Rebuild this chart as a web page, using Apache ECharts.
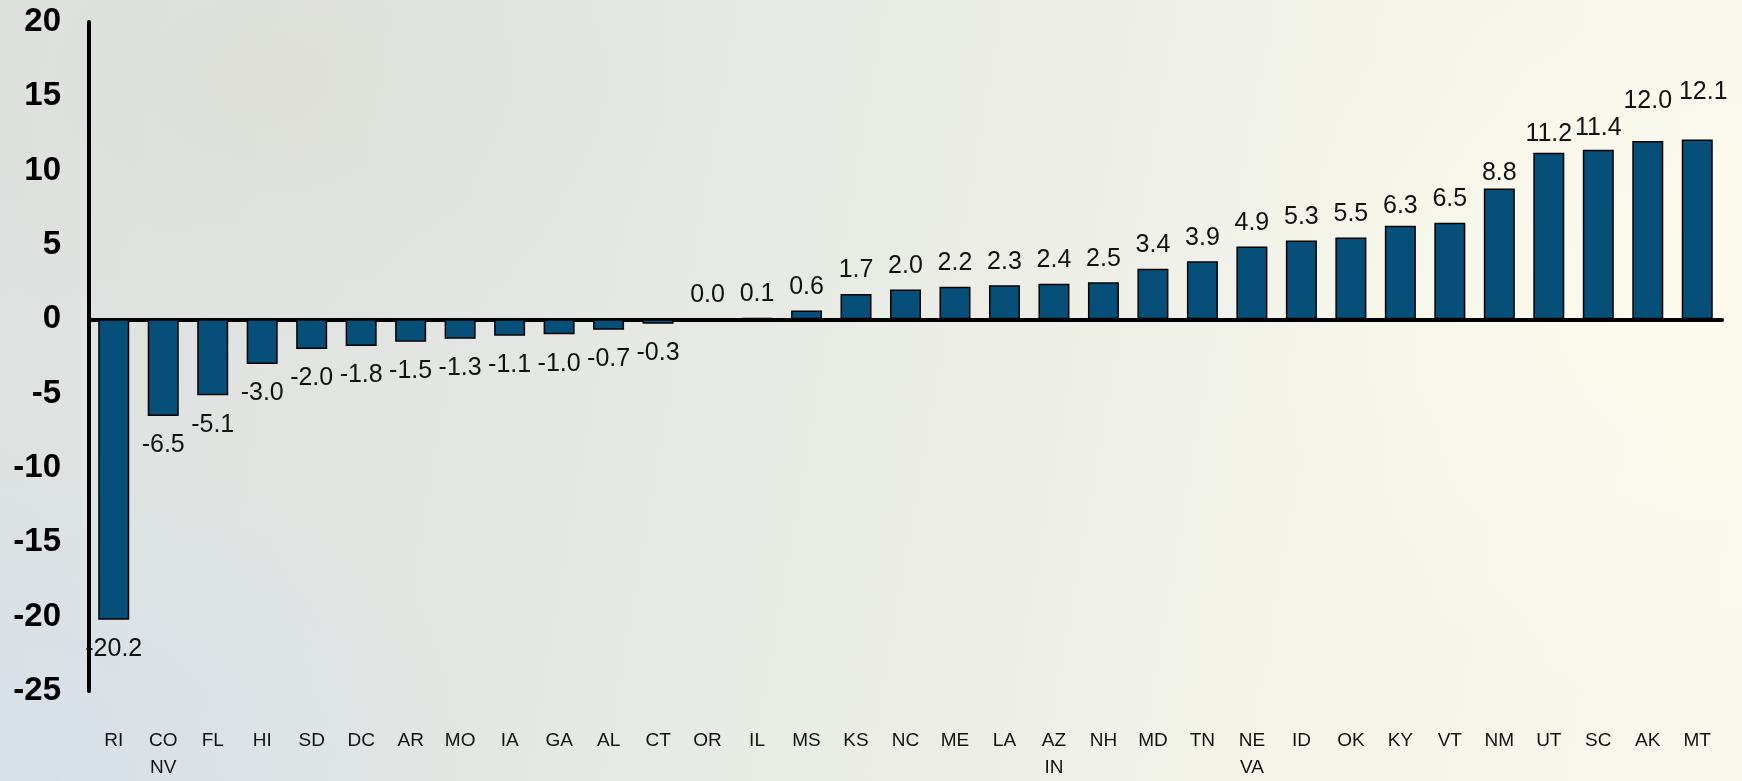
<!DOCTYPE html>
<html>
<head>
<meta charset="utf-8">
<script src="https://cdn.jsdelivr.net/npm/echarts@6/dist/echarts.min.js"></script>
<style>
html,body{margin:0;padding:0;width:1742px;height:781px;overflow:hidden;}
body{
  background:
    radial-gradient(ellipse 700px 500px at 0% 100%, rgba(214,224,235,0.9), rgba(214,224,235,0) 70%),
    radial-gradient(ellipse 600px 400px at 15% 10%, rgba(222,222,214,0.7), rgba(222,222,214,0) 70%),
    radial-gradient(ellipse 700px 600px at 100% 40%, rgba(252,250,236,1), rgba(252,250,236,0) 70%),
    linear-gradient(100deg, #dde1e0 0%, #e3e6e2 30%, #ebede6 55%, #f4f4ea 75%, #f9f8ee 100%);
}
#chart{width:1742px;height:781px;}
</style>
</head>
<body>
<div id="chart"></div>
<script>
const categories = ["RI","CO\nNV","FL","HI","SD","DC","AR","MO","IA","GA","AL","CT","OR","IL","MS","KS","NC","ME","LA","AZ\nIN","NH","MD","TN","NE\nVA","ID","OK","KY","VT","NM","UT","SC","AK","MT"];
const values = [-20.2,-6.5,-5.1,-3.0,-2.0,-1.8,-1.5,-1.3,-1.1,-1.0,-0.7,-0.3,0.0,0.1,0.6,1.7,2.0,2.2,2.3,2.4,2.5,3.4,3.9,4.9,5.3,5.5,6.3,6.5,8.8,11.2,11.4,12.0,12.1];
const yTicks = [-25,-20,-15,-10,-5,0,5,10,15,20];

const labelNudge = {"AK": [0, -16], "MT": [6, -24], "UT": [0, 5], "SC": [0, 2], "NM": [0, 8], "KY": [0, 4]};

const seriesData = values.map((v, i) => ({
  value: v,
  label: {
    position: v < 0 ? 'bottom' : 'top',
    distance: v < 0 ? 17 : 11,
    offset: labelNudge[categories[i]] || [0, 0]
  }
}));

const chart = echarts.init(document.getElementById('chart'), null, {renderer: 'canvas'});
chart.setOption({
  backgroundColor: 'transparent',
  animation: false,
  grid: {left: 89, right: 20, top: 22, bottom: 84, containLabel: false},
  xAxis: [
    {
      type: 'category',
      data: categories,
      axisLine: {show: true, onZero: true, lineStyle: {color: '#000', width: 4, cap: 'round'}},
      axisTick: {show: false},
      axisLabel: {show: false},
      splitLine: {show: false}
    },
    {
      type: 'category',
      data: categories,
      position: 'bottom',
      axisLine: {show: false, onZero: false},
      axisTick: {show: false},
      axisLabel: {
        show: true, interval: 0, margin: 36,
        fontFamily: "'Liberation Sans Narrow', 'Liberation Sans', Arial, sans-serif",
        fontSize: 19, color: '#111', lineHeight: 27
      }
    }
  ],
  yAxis: {
    type: 'value',
    min: yTicks[0], max: yTicks[yTicks.length - 1], interval: 5,
    axisLine: {show: true, lineStyle: {color: '#000', width: 4, cap: 'round'}},
    axisTick: {show: false},
    splitLine: {show: false},
    axisLabel: {
      margin: 28,
      fontFamily: "'Liberation Sans', Arial, sans-serif",
      fontWeight: 'bold', fontSize: 33, color: '#000'
    }
  },
  series: [{
    type: 'bar',
    xAxisIndex: 0,
    data: seriesData,
    barWidth: 31,
    itemStyle: {color: '#064f78', borderColor: '#000', borderWidth: 1.5},
    label: {
      show: true,
      fontFamily: "'Liberation Sans', Arial, sans-serif",
      fontSize: 25, color: '#111',
      formatter: p => p.value.toFixed(1)
    }
  }]
});
</script>
</body>
</html>
